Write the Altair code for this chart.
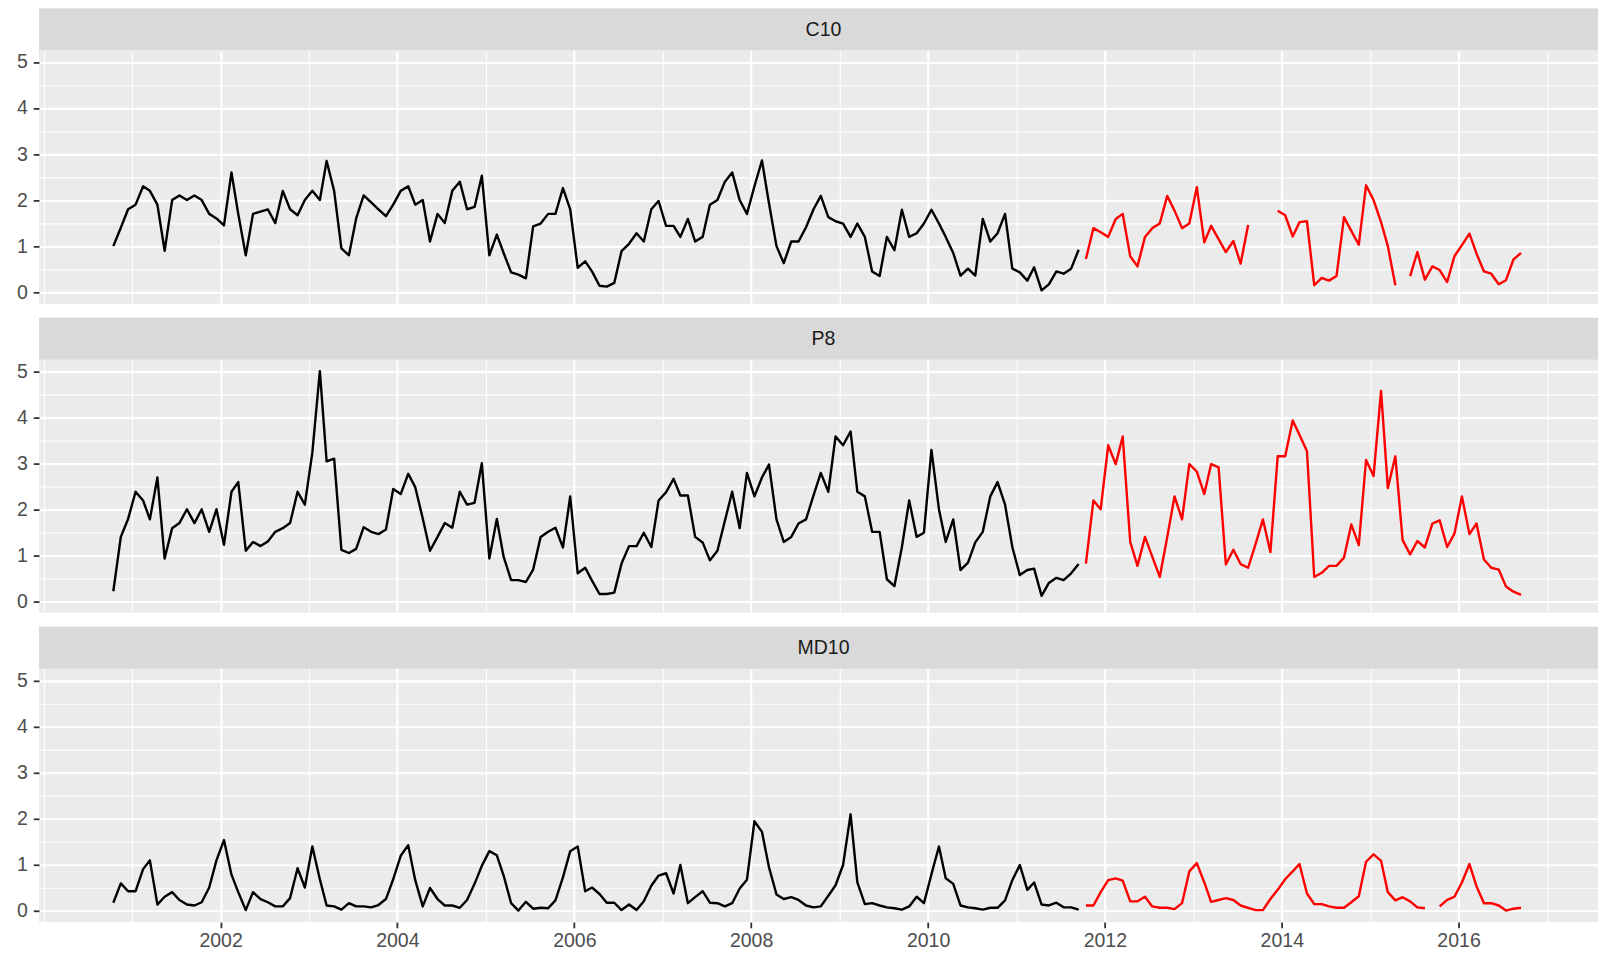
import altair as alt
import pandas as pd

SITES = ["C10", "P8", "MD10"]
FIRST_MONTH = "2000-10-01"

# Monthly readings, Oct 2000 - Sep 2011
C10_OBS = [
    1.0, 1.4, 1.8, 1.9, 2.3, 2.2, 1.9, 0.9, 2.0, 2.1,
    2.0, 2.1, 2.0, 1.7, 1.6, 1.45, 2.6, 1.7, 0.8, 1.7,
    1.75, 1.8, 1.5, 2.2, 1.8, 1.67, 2.0, 2.2, 2.0, 2.85,
    2.2, 0.95, 0.8, 1.6, 2.1, 1.95, 1.8, 1.65, 1.9, 2.2,
    2.3, 1.9, 2.0, 1.1, 1.7, 1.5, 2.2, 2.4, 1.8, 1.85,
    2.53, 0.8, 1.25, 0.85, 0.43, 0.38, 0.3, 1.43, 1.49, 1.7,
    1.7, 2.26, 1.8, 0.53, 0.67, 0.45, 0.14, 0.12, 0.2, 0.89,
    1.05, 1.28, 1.1, 1.8, 1.98, 1.44, 1.44, 1.2, 1.59, 1.1,
    1.2, 1.9, 2.0, 2.4, 2.6, 2.0, 1.7, 2.3, 2.86, 1.93,
    1.0, 0.63, 1.1, 1.1, 1.41, 1.8, 2.09, 1.63, 1.54, 1.49,
    1.2, 1.49, 1.2, 0.45, 0.35, 1.2, 0.91, 1.79, 1.2, 1.28,
    1.49, 1.79, 1.49, 1.2, 0.85, 0.36, 0.51, 0.36, 1.59, 1.1,
    1.28, 1.7, 0.51, 0.43, 0.25, 0.54, 0.04, 0.17, 0.45, 0.4,
    0.51, 0.92,
]
P8_OBS = [
    0.22, 1.4, 1.79, 2.38, 2.19, 1.78, 2.69, 0.93, 1.59, 1.7,
    2.0, 1.7, 2.0, 1.51, 2.0, 1.23, 2.38, 2.59, 1.1, 1.29,
    1.2, 1.3, 1.51, 1.59, 1.7, 2.38, 2.1, 3.23, 5.0, 3.04,
    3.1, 1.12, 1.05, 1.14, 1.61, 1.51, 1.46, 1.56, 2.44, 2.33,
    2.77, 2.48, 1.8, 1.1, 1.4, 1.7, 1.6, 2.38, 2.1, 2.14,
    3.0, 0.93, 1.79, 0.97, 0.46, 0.46, 0.42, 0.69, 1.4, 1.51,
    1.6, 1.17, 2.28, 0.61, 0.73, 0.45, 0.16, 0.16, 0.19, 0.82,
    1.2, 1.2, 1.49, 1.18, 2.19, 2.37, 2.66, 2.3, 2.3, 1.4,
    1.28, 0.89, 1.1, 1.75, 2.38, 1.59, 2.79, 2.28, 2.69, 2.97,
    1.78, 1.29, 1.4, 1.69, 1.78, 2.3, 2.79, 2.38, 3.58, 3.39,
    3.69, 2.38, 2.28, 1.51, 1.51, 0.48, 0.33, 1.18, 2.19, 1.4,
    1.49, 3.29, 2.0, 1.29, 1.78, 0.68, 0.84, 1.28, 1.51, 2.28,
    2.59, 2.1, 1.18, 0.57, 0.68, 0.71, 0.12, 0.4, 0.51, 0.46,
    0.61, 0.81,
]
MD10_OBS = [
    0.17, 0.59, 0.42, 0.42, 0.9, 1.09, 0.13, 0.3, 0.4, 0.23,
    0.13, 0.11, 0.18, 0.5, 1.09, 1.53, 0.78, 0.4, 0.01, 0.4,
    0.25, 0.18, 0.09, 0.09, 0.27, 0.92, 0.5, 1.39, 0.68, 0.11,
    0.09, 0.02, 0.16, 0.09, 0.09, 0.07, 0.12, 0.25, 0.68, 1.19,
    1.42, 0.66, 0.09, 0.49, 0.25, 0.11, 0.11, 0.06, 0.23, 0.58,
    0.97, 1.29, 1.2, 0.76, 0.16, 0.0, 0.19, 0.04, 0.06, 0.05,
    0.22, 0.72, 1.29, 1.39, 0.42, 0.5, 0.36, 0.17, 0.17, 0.01,
    0.13, 0.01, 0.2, 0.54, 0.76, 0.81, 0.37, 0.99, 0.16, 0.29,
    0.42, 0.17, 0.16, 0.09, 0.16, 0.48, 0.67, 1.94, 1.71, 0.94,
    0.35, 0.25, 0.29, 0.23, 0.11, 0.07, 0.09, 0.32, 0.55, 0.99,
    2.09, 0.61, 0.14, 0.16, 0.11, 0.07, 0.05, 0.02, 0.09, 0.3,
    0.16, 0.79, 1.39, 0.7, 0.58, 0.11, 0.07, 0.05, 0.02, 0.06,
    0.06, 0.22, 0.66, 0.99, 0.45, 0.61, 0.13, 0.11, 0.17, 0.07,
    0.07, 0.02,
]

# Monthly readings, Oct 2011 - Sep 2016 (None = no reading that month)
C10_NEW = [
    0.72, 1.39, 1.3, 1.2, 1.59, 1.7, 0.78, 0.56, 1.2, 1.39,
    1.49, 2.09, 1.77, 1.39, 1.49, 2.28, 1.08, 1.44, 1.15, 0.87,
    1.11, 0.62, 1.46, None, None, None, 1.77, 1.67, 1.21, 1.52,
    1.54, 0.15, 0.31, 0.25, 0.35, 1.63, 1.33, 1.03, 2.32, 2.0,
    1.52, 1.0, 0.15, None, 0.35, 0.87, 0.27, 0.56, 0.48, 0.22,
    0.78, 1.02, 1.27, 0.84, 0.45, 0.4, 0.17, 0.26, 0.71, 0.85,
]
P8_NEW = [
    0.82, 2.19, 2.0, 3.39, 2.98, 3.58, 1.29, 0.77, 1.4, 0.97,
    0.53, 1.4, 2.28, 1.78, 2.98, 2.82, 2.33, 2.98, 2.91, 0.8,
    1.12, 0.81, 0.73, 1.25, 1.78, 1.07, 3.15, 3.15, 3.93, 3.62,
    3.26, 0.53, 0.62, 0.77, 0.77, 0.95, 1.67, 1.22, 3.07, 2.72,
    4.57, 2.46, 3.15, 1.33, 1.02, 1.31, 1.17, 1.69, 1.76, 1.18,
    1.47, 2.28, 1.46, 1.69, 0.91, 0.73, 0.69, 0.32, 0.21, 0.14,
]
MD10_NEW = [
    0.11, 0.11, 0.4, 0.66, 0.7, 0.65, 0.2, 0.2, 0.3, 0.09,
    0.06, 0.06, 0.03, 0.16, 0.85, 1.03, 0.61, 0.19, 0.23, 0.27,
    0.23, 0.11, 0.06, 0.01, 0.01, 0.25, 0.45, 0.68, 0.85, 1.01,
    0.37, 0.14, 0.14, 0.09, 0.06, 0.06, 0.18, 0.31, 1.06, 1.22,
    1.08, 0.4, 0.22, 0.29, 0.2, 0.07, 0.05, None, 0.09, 0.23,
    0.3, 0.61, 1.01, 0.53, 0.16, 0.16, 0.11, 0.0, 0.04, 0.06,
]

SERIES = {
    "C10": (C10_OBS, C10_NEW),
    "P8": (P8_OBS, P8_NEW),
    "MD10": (MD10_OBS, MD10_NEW),
}

MAJOR_YEARS = [2002, 2004, 2006, 2008, 2010, 2012, 2014, 2016]
MINOR_YEARS = [2000, 2001, 2003, 2005, 2007, 2009, 2011, 2013, 2015, 2017]
Y_MAJOR = [0, 1, 2, 3, 4, 5]
Y_MINOR = [0.5, 1.5, 2.5, 3.5, 4.5]

FONT = "Liberation Sans"
FONT_SIZE = 19.5
W = 1559.5      # panel width
H = 253.3       # panel height
STRIP_H = 42    # facet strip height


def site_frame(obs, new):
    n = len(obs) + len(new)
    dates = pd.date_range(FIRST_MONTH, periods=n, freq="MS") + pd.Timedelta(days=14)
    df = pd.DataFrame({
        "date": dates.strftime("%Y-%m-%d"),
        "value": pd.Series(list(obs) + list(new), dtype=float),
        "period": ["observed"] * len(obs) + ["recent"] * len(new),
    })
    # each unbroken run of readings becomes its own path
    gap = df["value"].isna()
    df["run"] = (gap | df["period"].ne(df["period"].shift())).cumsum()
    return df[~gap].reset_index(drop=True)


x_scale = alt.Scale(
    domain=[alt.DateTime(year=1999, month=12, date=13),
            alt.DateTime(year=2017, month=7, date=30)],
    nice=False,
)
y_scale = alt.Scale(domain=[-0.25, 5.25], nice=False, zero=False)

label_style = dict(labelFont=FONT, labelFontSize=FONT_SIZE, labelColor="#4D4D4D",
                   labelFlush=False, labelOverlap=False)
tick_style = dict(tickColor="#333333", tickWidth=1.8, tickSize=5.7)


def panel(site, show_x):
    obs, new = SERIES[site]
    base = alt.Chart(site_frame(obs, new))

    minor_grid = base.mark_line(strokeOpacity=0).encode(
        x=alt.X("date:T", scale=x_scale, axis=alt.Axis(
            values=[alt.DateTime(year=y, month=1, date=1) for y in MINOR_YEARS],
            grid=True, gridColor="white", gridWidth=1.05, domain=False,
            ticks=False, labels=False, title=None, orient="bottom")),
        y=alt.Y("value:Q", scale=y_scale, axis=alt.Axis(
            values=Y_MINOR, grid=True, gridColor="white", gridWidth=1.05,
            domain=False, ticks=False, labels=False, title=None, orient="left")),
    )

    lines = base.mark_line(strokeWidth=2.4, strokeJoin="round").encode(
        x=alt.X("date:T", scale=x_scale, axis=alt.Axis(
            values=[alt.DateTime(year=y, month=1, date=1) for y in MAJOR_YEARS],
            format="%Y", grid=True, gridColor="white", gridWidth=2.1,
            domain=False, ticks=show_x, labels=show_x, title=None,
            orient="bottom", labelPadding=4, **label_style, **tick_style)),
        y=alt.Y("value:Q", scale=y_scale, axis=alt.Axis(
            values=Y_MAJOR, format="d", grid=True, gridColor="white",
            gridWidth=2.1, domain=False, title=None, orient="left",
            labelPadding=6, **label_style, **tick_style)),
        color=alt.Color("period:N", legend=None, scale=alt.Scale(
            domain=["observed", "recent"], range=["#000000", "#FF0000"])),
        detail="run:N",
    )

    plot = alt.layer(minor_grid, lines).resolve_axis(
        x="independent", y="independent"
    ).properties(width=W, height=H)

    label_df = pd.DataFrame({"site": [site]})
    strip_bg = alt.Chart(label_df).mark_rect(color="#D9D9D9").encode(
        x=alt.value(0), x2=alt.value(W), y=alt.value(0), y2=alt.value(STRIP_H)
    )
    strip_text = alt.Chart(label_df).mark_text(
        font=FONT, fontSize=FONT_SIZE, color="#1A1A1A", align="center", baseline="middle"
    ).encode(text="site:N", x=alt.value(W / 2 + 5), y=alt.value(STRIP_H / 2 + 0.5))
    strip = alt.layer(strip_bg, strip_text).properties(width=W, height=STRIP_H)

    return alt.vconcat(strip, plot, spacing=0)


chart = alt.vconcat(
    *[panel(s, s == SITES[-1]) for s in SITES], spacing=13.3
).properties(
    padding={"left": 16, "top": 8.3, "right": 0, "bottom": 4},
    background="white",
).configure_view(stroke=None, fill="#EBEBEB")

chart.save("out.html", embed_options={"renderer": "svg", "actions": False})
